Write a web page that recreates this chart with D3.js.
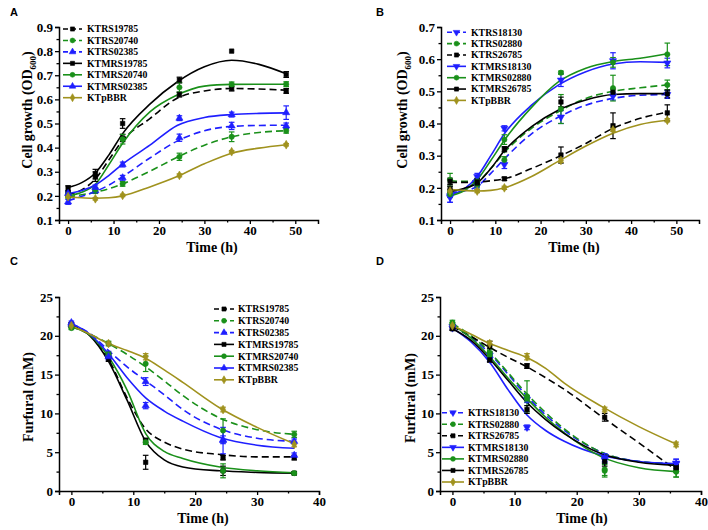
<!DOCTYPE html>
<html><head><meta charset="utf-8">
<script src="https://cdn.jsdelivr.net/npm/d3@7"></script>
<style>body{margin:0;background:#fff}svg{display:block}</style>
</head><body>
<svg id="chart" width="708" height="530"></svg>
<script>
// ---------- DATA ----------
const timesAB = [0, 6, 12, 24.5, 36, 48];
const fitTimesAB = [0, 3, 6, 9, 12, 18, 24, 30, 36, 42, 48];
const timesCD = [0, 6, 12, 24.5, 36];
const fitTimesCD = [0, 3, 6, 9, 12, 15, 18, 24, 30, 36];

const xTicksAB = [0, 10, 20, 30, 40, 50];
const xTicksCD = [0, 10, 20, 30, 40];
const yTicksA = [0.1, 0.2, 0.3, 0.4, 0.5, 0.6, 0.7, 0.8, 0.9];
const yTicksB = [0.1, 0.2, 0.3, 0.4, 0.5, 0.6, 0.7];
const yTicksCD = [0, 5, 10, 15, 20, 25];

// Panel A
const namesA = ["KTRS19785", "KTRS20740", "KTRS02385", "KTMRS19785", "KTMRS20740", "KTMRS02385", "KTpBBR"];
const meansA = [
  [0.21, 0.28, 0.44, 0.62, 0.645, 0.635],
  [0.20, 0.22, 0.25, 0.362, 0.445, 0.47],
  [0.175, 0.222, 0.275, 0.441, 0.49, 0.49],
  [0.232, 0.29, 0.50, 0.68, 0.80, 0.703],
  [0.205, 0.225, 0.435, 0.65, 0.662, 0.663],
  [0.21, 0.235, 0.33, 0.522, 0.537, 0.545],
  [0.197, 0.188, 0.202, 0.285, 0.383, 0.412]
];
const errsA = [
  [0.01, 0.02, 0.015, 0.01, 0.01, 0.01],
  [0.01, 0.01, 0.01, 0.015, 0.02, 0.01],
  [0.01, 0.01, 0.01, 0.015, 0.015, 0.012],
  [0.01, 0.02, 0.02, 0.012, 0, 0.012],
  [0.01, 0.01, 0.02, 0.02, 0.01, 0.01],
  [0.01, 0.01, 0.01, 0.01, 0.01, 0.028],
  [0.005, 0.005, 0.005, 0.006, 0.005, 0.005]
];
const fitsA = [
  [0.205, 0.225, 0.27, 0.35, 0.43, 0.52, 0.605, 0.635, 0.645, 0.643, 0.638],
  [0.195, 0.205, 0.215, 0.23, 0.25, 0.302, 0.36, 0.41, 0.445, 0.463, 0.47],
  [0.18, 0.198, 0.218, 0.245, 0.28, 0.357, 0.427, 0.47, 0.488, 0.492, 0.493],
  [0.235, 0.255, 0.295, 0.37, 0.458, 0.58, 0.672, 0.735, 0.762, 0.745, 0.706],
  [0.20, 0.215, 0.248, 0.33, 0.418, 0.548, 0.618, 0.655, 0.662, 0.663, 0.663],
  [0.21, 0.222, 0.245, 0.285, 0.332, 0.41, 0.492, 0.525, 0.537, 0.542, 0.544],
  [0.195, 0.192, 0.19, 0.192, 0.20, 0.237, 0.28, 0.333, 0.377, 0.398, 0.412]
];

// Panel B
const namesB = ["KTRS18130", "KTRS02880", "KTRS26785", "KTMRS18130", "KTMRS02880", "KTMRS26785", "KTpBBR"];
const meansB = [
  [0.175, 0.205, 0.272, 0.42, 0.485, 0.49],
  [0.225, 0.21, 0.287, 0.445, 0.51, 0.52],
  [0.22, 0.215, 0.228, 0.302, 0.393, 0.433],
  [0.17, 0.235, 0.385, 0.535, 0.595, 0.588],
  [0.18, 0.22, 0.35, 0.558, 0.59, 0.615],
  [0.195, 0.218, 0.32, 0.467, 0.497, 0.492],
  [0.19, 0.19, 0.20, 0.285, 0.38, 0.41]
];
const errsB = [
  [0.02, 0.01, 0.012, 0.02, 0.012, 0.012],
  [0.02, 0.01, 0.01, 0.045, 0.04, 0.015],
  [0.01, 0.01, 0.005, 0.025, 0.04, 0.025],
  [0.015, 0.01, 0.008, 0.02, 0.025, 0.015],
  [0.01, 0.01, 0.015, 0.005, 0.015, 0.035],
  [0.01, 0.01, 0.008, 0.015, 0.01, 0.012],
  [0.005, 0.005, 0.005, 0.006, 0.005, 0.005]
];
const fitsB = [
  [0.185, 0.19, 0.205, 0.245, 0.29, 0.368, 0.42, 0.457, 0.478, 0.488, 0.49],
  [0.222, 0.22, 0.222, 0.26, 0.31, 0.385, 0.437, 0.478, 0.50, 0.511, 0.52],
  [0.217, 0.217, 0.218, 0.222, 0.228, 0.26, 0.297, 0.338, 0.385, 0.416, 0.435],
  [0.178, 0.195, 0.235, 0.30, 0.368, 0.457, 0.52, 0.561, 0.585, 0.592, 0.59],
  [0.175, 0.19, 0.225, 0.285, 0.348, 0.45, 0.53, 0.572, 0.593, 0.603, 0.617],
  [0.188, 0.198, 0.215, 0.26, 0.315, 0.39, 0.442, 0.473, 0.49, 0.493, 0.493],
  [0.195, 0.192, 0.19, 0.192, 0.20, 0.235, 0.283, 0.33, 0.37, 0.397, 0.41]
];

// Panel C
const namesC = ["KTRS19785", "KTRS20740", "KTRS02385", "KTMRS19785", "KTMRS20740", "KTMRS02385", "KTpBBR"];
const meansC = [
  [21.3, 17.4, 6.5, 4.3, 4.3],
  [21.2, 19.0, 16.4, 7.8, 7.3],
  [21.5, 17.6, 14.1, 6.5, 6.4],
  [21.5, 17.0, 3.7, 2.6, 2.3],
  [21.0, 17.6, 6.3, 2.6, 2.3],
  [21.7, 17.3, 11.0, 6.6, 4.6],
  [21.3, 19.0, 17.3, 10.5, 6.0]
];
const errsC = [
  [0.2, 0.3, 0.3, 0.3, 0.3],
  [0.2, 0.3, 1.0, 1.5, 0.4],
  [0.2, 0.4, 0.5, 1.7, 0.3],
  [0.2, 0.3, 0.9, 0.6, 0.2],
  [0.2, 0.3, 0.3, 0.9, 0.2],
  [0.2, 0.4, 0.4, 0.5, 0.3],
  [0.2, 0.2, 0.4, 0.3, 0.3]
];
const fitsC = [
  [21.3, 20.1, 17.0, 12.0, 8.0, 6.3, 5.4, 4.7, 4.4, 4.4],
  [21.2, 20.2, 19.0, 17.6, 16.0, 14.2, 12.3, 9.4, 7.9, 7.3],
  [21.5, 20.3, 18.1, 16.0, 14.2, 12.4, 10.5, 8.0, 6.8, 6.4],
  [21.3, 20.0, 16.7, 11.7, 6.4, 4.0, 3.1, 2.6, 2.4, 2.3],
  [21.1, 20.1, 17.3, 13.0, 7.4, 5.1, 4.2, 3.1, 2.6, 2.35],
  [21.6, 20.2, 17.7, 14.6, 12.0, 10.3, 9.0, 6.9, 5.9, 5.5],
  [21.3, 20.2, 19.0, 18.1, 17.1, 15.6, 14.0, 10.7, 8.2, 6.1]
];

// Panel D
const namesD = ["KTRS18130", "KTRS02880", "KTRS26785", "KTMRS18130", "KTMRS02880", "KTMRS26785", "KTpBBR"];
const meansD = [
  [21.2, 17.5, 11.8, 4.0, 3.6],
  [21.7, 17.8, 12.2, 2.8, 2.5],
  [21.0, 18.6, 16.1, 9.5, 3.0],
  [21.0, 17.0, 8.2, 4.3, 3.5],
  [21.5, 17.5, 11.9, 2.6, 2.5],
  [20.9, 16.9, 10.5, 3.8, 3.0],
  [21.3, 19.0, 17.3, 10.5, 6.0]
];
const errsD = [
  [0.3, 0.4, 0.4, 0.4, 0.5],
  [0.3, 0.5, 2.0, 0.8, 0.7],
  [0.3, 0.7, 0.3, 0.5, 0.4],
  [0.2, 0.3, 0.3, 0.5, 0.6],
  [0.2, 0.5, 0.4, 0.8, 0.7],
  [0.2, 0.3, 0.5, 0.6, 0.4],
  [0.2, 0.3, 0.4, 0.3, 0.3]
];
const fitsD = [
  [21.3, 19.8, 17.7, 15.0, 12.2, 9.8, 7.8, 5.0, 3.8, 3.5],
  [21.6, 20.0, 17.9, 15.2, 12.5, 10.1, 8.0, 5.0, 3.8, 3.5],
  [21.2, 19.9, 18.5, 17.2, 16.0, 14.6, 13.1, 9.6, 6.2, 2.7],
  [21.0, 19.2, 16.6, 13.0, 9.8, 7.8, 6.4, 4.6, 3.8, 3.5],
  [21.4, 19.7, 17.3, 14.5, 11.9, 9.5, 7.5, 4.4, 3.0, 2.5],
  [20.9, 19.4, 17.0, 14.2, 11.4, 9.2, 7.4, 4.8, 3.7, 3.3],
  [21.3, 20.2, 19.0, 18.1, 17.2, 15.8, 13.9, 10.9, 8.3, 6.05]
];

// ---------- STYLES ----------
const BLACK = "#000000", GREEN = "#1a901a", BLUE = "#1f1fff", OLIVE = "#a0921e";
const colorsA = [BLACK, GREEN, BLUE, BLACK, GREEN, BLUE, OLIVE];
const colorsB = [BLUE, GREEN, BLACK, BLUE, GREEN, BLACK, OLIVE];
const dashed = [true, true, true, false, false, false, false];
const symbolsA = ["square", "circle", "up", "square", "circle", "up", "diamond"];
const symbolsB = ["down", "circle", "square", "down", "circle", "square", "diamond"];

const svg = d3.select("#chart");
const SERIF = "'Liberation Serif','Times New Roman',serif";

function symPath(kind, scale) {
  const map = {square: [d3.symbolSquare, 20], circle: [d3.symbolCircle, 22], up: [d3.symbolTriangle, 22],
               down: [d3.symbolTriangle, 22], diamond: [d3.symbolDiamond, 22]};
  const [t, s] = map[kind];
  return d3.symbol().type(t).size(s * scale)();
}
function drawSym(g, kind, x, y, color, scale) {
  g.append("path").attr("d", symPath(kind, scale))
    .attr("transform", `translate(${x},${y})` + (kind === "down" ? " rotate(180)" : ""))
    .attr("fill", color).attr("stroke", color).attr("stroke-width", 0.6);
}

function panel(cfg) {
  const g = svg.append("g");
  const x = d3.scaleLinear().domain(cfg.xDomain).range(cfg.xRange);
  const y = d3.scaleLinear().domain(cfg.yDomain).range(cfg.yRange);

  const xMinor = [];
  for (let i = 0; i < cfg.xTicks.length - 1; i++) xMinor.push((cfg.xTicks[i] + cfg.xTicks[i + 1]) / 2);
  const yMinor = [];
  for (let i = 0; i < cfg.yTicks.length - 1; i++) yMinor.push(+((cfg.yTicks[i] + cfg.yTicks[i + 1]) / 2).toFixed(4));

  const bottom = cfg.yRange[0], left = cfg.xRange[0];
  g.append("g").attr("transform", `translate(0,${bottom})`)
    .call(d3.axisBottom(x).tickValues(cfg.xTicks).tickSize(4).tickPadding(2).tickFormat(d3.format("d")));
  g.append("g").attr("transform", `translate(0,${bottom})`)
    .call(d3.axisBottom(x).tickValues(xMinor).tickSize(2.5).tickFormat("")).select(".domain").remove();
  g.append("g").attr("transform", `translate(${left},0)`)
    .call(d3.axisLeft(y).tickValues(cfg.yTicks).tickSize(4).tickPadding(2).tickFormat(cfg.yFormat));
  g.append("g").attr("transform", `translate(${left},0)`)
    .call(d3.axisLeft(y).tickValues(yMinor).tickSize(2.5).tickFormat("")).select(".domain").remove();
  g.selectAll(".domain").attr("stroke", "#000").attr("stroke-width", 1.5);
  g.selectAll(".tick line").attr("stroke", "#000").attr("stroke-width", 1.3);
  g.selectAll(".tick text").attr("font-family", SERIF).attr("font-weight", "bold")
    .attr("font-size", 13).attr("fill", "#000");

  g.append("text").attr("x", cfg.xTitle[0]).attr("y", cfg.xTitle[1]).attr("text-anchor", "middle")
    .attr("font-family", SERIF).attr("font-weight", "bold").attr("font-size", 14).text("Time (h)");
  const yt = g.append("text").attr("transform", `translate(${cfg.yTitle[0]},${cfg.yTitle[1]}) rotate(-90)`)
    .attr("text-anchor", "middle").attr("font-family", SERIF).attr("font-weight", "bold").attr("font-size", 14);
  if (cfg.yLabel === "od") {
    yt.append("tspan").text("Cell growth (OD");
    yt.append("tspan").attr("font-size", 9).attr("dy", 4).text("600");
    yt.append("tspan").attr("dy", -4).text(")");
  } else {
    yt.text(cfg.yLabel);
  }

  svg.append("text").attr("x", cfg.letter[0]).attr("y", cfg.letter[1])
    .attr("font-family", "'Liberation Sans',Arial,sans-serif").attr("font-weight", "bold")
    .attr("font-size", 11).text(cfg.letter[2]);

  const line = d3.line().x(d => x(d[0])).y(d => y(d[1])).curve(d3.curveMonotoneX);
  cfg.names.forEach((n, i) => {
    const pts = cfg.fitTimes.map((t, k) => [t, cfg.fits[i][k]]);
    g.append("path").attr("d", line(pts)).attr("fill", "none").attr("stroke", cfg.colors[i])
      .attr("stroke-width", 1.6).attr("stroke-dasharray", dashed[i] ? "7,4" : null);
  });
  cfg.names.forEach((n, i) => {
    const col = cfg.colors[i];
    cfg.times.forEach((t, k) => {
      const m = cfg.means[i][k], e = cfg.errs[i][k];
      const cx = x(t);
      if (e > 0) {
        const y1 = y(m + e), y2 = y(m - e);
        g.append("line").attr("x1", cx).attr("x2", cx).attr("y1", y1).attr("y2", y2).attr("stroke", col).attr("stroke-width", 1.2);
        [y1, y2].forEach(yy => g.append("line").attr("x1", cx - 2.8).attr("x2", cx + 2.8).attr("y1", yy).attr("y2", yy)
          .attr("stroke", col).attr("stroke-width", 1.2));
      }
    });
  });
  cfg.names.forEach((n, i) => {
    cfg.times.forEach((t, k) => drawSym(g, cfg.symbols[i], x(t), y(cfg.means[i][k]), cfg.colors[i], 1));
  });

  const L = cfg.legend;
  cfg.names.forEach((n, i) => {
    const yy = L.y0 + i * L.dy;
    g.append("line").attr("x1", L.x1).attr("x2", L.x2).attr("y1", yy).attr("y2", yy)
      .attr("stroke", cfg.colors[i]).attr("stroke-width", 1.6).attr("stroke-dasharray", dashed[i] ? "5,3" : null);
    drawSym(g, cfg.symbols[i], (L.x1 + L.x2) / 2, yy, cfg.colors[i], 0.85);
    g.append("text").attr("x", L.tx).attr("y", yy).attr("dy", "0.35em")
      .attr("font-family", SERIF).attr("font-weight", "bold").attr("font-size", 9.8).text(n);
  });
}

panel({xDomain: [-2, 55], xRange: [59, 318], yDomain: [0.1, 0.9], yRange: [220, 27],
  xTicks: xTicksAB, yTicks: yTicksA, yFormat: d3.format(".1f"),
  xTitle: [212, 252], yTitle: [32, 110], yLabel: "od", letter: [10, 16, "A"],
  names: namesA, means: meansA, errs: errsA, fits: fitsA, times: timesAB, fitTimes: fitTimesAB,
  colors: colorsA, symbols: symbolsA, legend: {x1: 63, x2: 82, tx: 87, y0: 29, dy: 11.45}});

panel({xDomain: [-2, 55], xRange: [441, 699], yDomain: [0.1, 0.7], yRange: [220, 27],
  xTicks: xTicksAB, yTicks: yTicksB, yFormat: d3.format(".1f"),
  xTitle: [574, 252], yTitle: [407, 110], yLabel: "od", letter: [376, 16, "B"],
  names: namesB, means: meansB, errs: errsB, fits: fitsB, times: timesAB, fitTimes: fitTimesAB,
  colors: colorsB, symbols: symbolsB, legend: {x1: 447, x2: 466, tx: 471, y0: 32.3, dy: 11.35}});

panel({xDomain: [-2, 40], xRange: [59, 319], yDomain: [0, 25], yRange: [491, 297],
  xTicks: xTicksCD, yTicks: yTicksCD, yFormat: d3.format("d"),
  xTitle: [203, 523], yTitle: [33, 397], yLabel: "Furfural (mM)", letter: [10, 265, "C"],
  names: namesC, means: meansC, errs: errsC, fits: fitsC, times: timesCD, fitTimes: fitTimesCD,
  colors: colorsA, symbols: symbolsA, legend: {x1: 214, x2: 234, tx: 238, y0: 309, dy: 11.8}});

panel({xDomain: [-2, 40], xRange: [440, 701], yDomain: [0, 25], yRange: [491, 297],
  xTicks: xTicksCD, yTicks: yTicksCD, yFormat: d3.format("d"),
  xTitle: [582, 523], yTitle: [415, 398], yLabel: "Furfural (mM)", letter: [376, 265, "D"],
  names: namesD, means: meansD, errs: errsD, fits: fitsD, times: timesCD, fitTimes: fitTimesCD,
  colors: colorsB, symbols: symbolsB, legend: {x1: 442, x2: 464, tx: 468, y0: 412.7, dy: 11.55}});
</script>
</body></html>
